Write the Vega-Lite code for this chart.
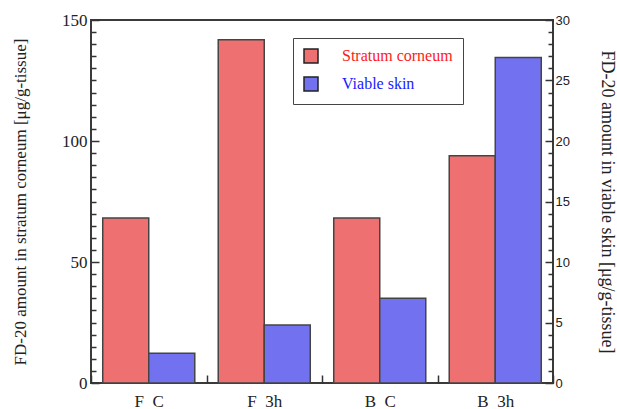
{
  "$schema": "https://vega.github.io/schema/vega-lite/v6.json",
  "width": 462,
  "height": 363,
  "autosize": "none",
  "padding": {"left": 91, "top": 20, "right": 64, "bottom": 26},
  "background": "white",
  "config": {
    "view": {"stroke": "#3a3a3a", "strokeWidth": 2},
    "font": "Liberation Serif"
  },
  "data": {
    "values": [
      {"group": "F\u00a0\u00a0C", "series": "Stratum corneum", "value": 68.2},
      {"group": "F\u00a0\u00a03h", "series": "Stratum corneum", "value": 141.8},
      {"group": "B\u00a0\u00a0C", "series": "Stratum corneum", "value": 68.2},
      {"group": "B\u00a0\u00a03h", "series": "Stratum corneum", "value": 93.9},
      {"group": "F\u00a0\u00a0C", "series": "Viable skin", "value": 2.45},
      {"group": "F\u00a0\u00a03h", "series": "Viable skin", "value": 4.8},
      {"group": "B\u00a0\u00a0C", "series": "Viable skin", "value": 7.0},
      {"group": "B\u00a0\u00a03h", "series": "Viable skin", "value": 26.9}
    ]
  },
  "encoding": {
    "x": {
      "field": "group",
      "type": "nominal",
      "sort": ["F\u00a0\u00a0C", "F\u00a0\u00a03h", "B\u00a0\u00a0C", "B\u00a0\u00a03h"],
      "scale": {"paddingInner": 0, "paddingOuter": 0},
      "axis": {
        "title": null,
        "labelAngle": 0,
        "labelFont": "Liberation Serif",
        "labelFontSize": 17,
        "labelColor": "#222",
        "labelPadding": 18,
        "tickBand": "extent",
        "tickSize": -8,
        "tickColor": "#333",
        "tickWidth": 1.5,
        "domain": false
      }
    },
    "xOffset": {
      "field": "series",
      "type": "nominal",
      "sort": ["Stratum corneum", "Viable skin"],
      "scale": {"paddingInner": 0, "paddingOuter": 0.255}
    }
  },
  "layer": [
    {
      "transform": [{"filter": "datum.series == 'Stratum corneum'"}],
      "mark": {"type": "bar", "stroke": "#444", "strokeWidth": 1.5},
      "encoding": {
        "y": {
          "field": "value",
          "type": "quantitative",
          "scale": {"domain": [0, 150], "nice": false, "zero": true},
          "axis": {
            "orient": "left",
            "values": [0,5,10,15,20,25,30,35,40,45,50,55,60,65,70,75,80,85,90,95,100,105,110,115,120,125,130,135,140,145,150],
            "labelExpr": "datum.value % 50 == 0 ? datum.label : ''",
            "tickSize": {"condition": {"test": "datum.value % 50 == 0", "value": -8}, "value": -5},
            "tickColor": "#333",
            "tickWidth": 1.5,
            "labelFont": "Liberation Serif",
            "labelFontSize": 17,
            "labelColor": "#222",
            "labelPadding": 12,
            "domain": false,
            "grid": false,
            "title": "FD-20 amount in stratum corneum [μg/g-tissue]",
            "titleFont": "Liberation Serif",
            "titleFontSize": 17,
            "titleFontWeight": "normal",
            "titleColor": "#222",
            "titlePadding": 32
          }
        },
        "fill": {
          "field": "series",
          "type": "nominal",
          "scale": {"domain": ["Stratum corneum", "Viable skin"], "range": ["#ef7070", "#7272f0"]},
          "legend": {
            "orient": "none",
            "legendX": 202,
            "legendY": 18,
            "title": null,
            "padding": 10,
            "strokeColor": "#444",
            "fillColor": "white",
            "symbolType": "square",
            "symbolSize": 196,
            "symbolStrokeColor": "#222",
            "symbolStrokeWidth": 1.5,
            "labelFont": "Liberation Serif",
            "labelFontSize": 16,
            "labelOffset": 23,
            "rowPadding": 8,
            "encode": {
              "labels": {"update": {"fill": {"signal": "datum.value == 'Stratum corneum' ? '#ff1a1a' : '#1a1aff'"}}}
            }
          }
        }
      }
    },
    {
      "transform": [{"filter": "datum.series == 'Viable skin'"}],
      "mark": {"type": "bar", "stroke": "#444", "strokeWidth": 1.5},
      "encoding": {
        "y": {
          "field": "value",
          "type": "quantitative",
          "scale": {"domain": [0, 30], "nice": false, "zero": true},
          "axis": {
            "orient": "right",
            "values": [0,1,2,3,4,5,6,7,8,9,10,11,12,13,14,15,16,17,18,19,20,21,22,23,24,25,26,27,28,29,30],
            "labelExpr": "datum.value % 5 == 0 ? datum.label : ''",
            "tickSize": {"condition": {"test": "datum.value % 5 == 0", "value": -8}, "value": -5},
            "tickColor": "#333",
            "tickWidth": 1.5,
            "labelFont": "Liberation Sans",
            "labelFontSize": 13,
            "labelColor": "#222",
            "labelPadding": 10,
            "domain": false,
            "grid": false,
            "title": "FD-20 amount in viable skin [μg/g-tissue]",
            "titleFont": "Liberation Serif",
            "titleFontSize": 18,
            "titleFontWeight": "normal",
            "titleColor": "#222",
            "titlePadding": 28
          }
        },
        "fill": {"field": "series", "type": "nominal"}
      }
    }
  ],
  "resolve": {"scale": {"y": "independent"}, "axis": {"y": "independent"}}
}
